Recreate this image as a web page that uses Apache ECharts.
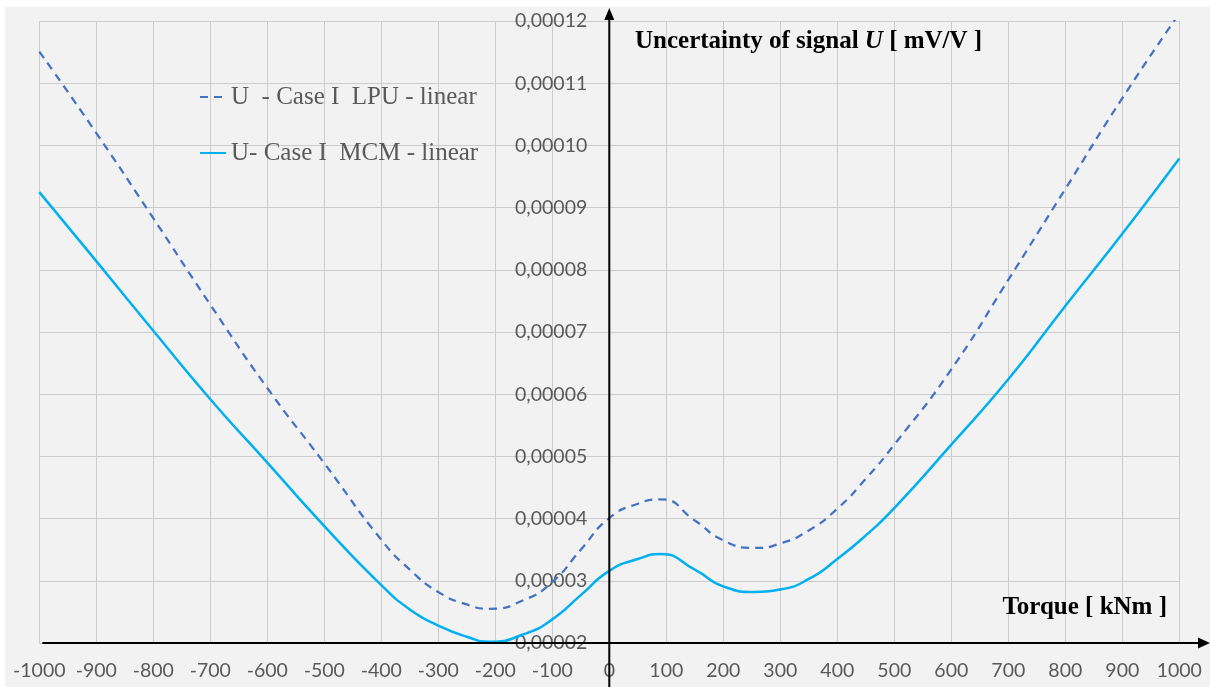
<!DOCTYPE html>
<html><head><meta charset="utf-8">
<script src="https://cdn.jsdelivr.net/npm/echarts@6/dist/echarts.min.js"></script>
<style>
html,body{margin:0;padding:0;background:#ffffff;}
#c{position:absolute;left:5px;top:7px;width:1205px;height:680px;}
</style></head><body><div id="c"></div>
<script>
// Torque [kNm]
const torque = [-1000,-900,-800,-700,-600,-500,-400,-350,-300,-250,-210,-150,-100,-50,0,50,90,150,200,255,300,350,400,450,500,600,700,800,900,1000];
// U - Case I LPU - linear [mV/V]
const lpu = [0.0001151,0.0001020,0.0000883,0.0000744,0.0000610,0.0000489,0.0000366,0.0000318,0.0000282,0.0000262,0.0000255,0.0000269,0.0000298,0.0000350,0.0000401,0.0000424,0.0000431,0.0000397,0.0000365,0.0000353,0.0000360,0.0000381,0.0000416,0.0000464,0.0000519,0.0000640,0.0000784,0.0000930,0.0001076,0.0001212];
// U - Case I MCM - linear [mV/V]
const mcm = [0.0000925,0.0000814,0.0000702,0.0000592,0.0000490,0.0000388,0.0000293,0.0000254,0.0000228,0.0000210,0.0000202,0.0000214,0.0000238,0.0000277,0.0000316,0.0000335,0.0000343,0.0000318,0.0000291,0.0000282,0.0000286,0.0000303,0.0000335,0.0000373,0.0000417,0.0000519,0.0000624,0.0000742,0.0000858,0.0000979];
const seriesNames = ['U  - Case I  LPU - linear', 'U- Case I  MCM - linear'];
const xTickLabels = ['-1000','-900','-800','-700','-600','-500','-400','-300','-200','-100','0','100','200','300','400','500','600','700','800','900','1000'];
const yTickLabels = ['0,00002','0,00003','0,00004','0,00005','0,00006','0,00007','0,00008','0,00009','0,00010','0,00011','0,00012'];
const yTitle = ['Uncertainty of signal ', 'U', ' [ mV/V ]'];
const xTitle = 'Torque [ kNm ]';

const X_MIN = -1000, X_MAX = 1000, X_INT = 100;
const Y_MIN = 0.00002, Y_MAX = 0.00012, Y_INT = 0.00001;

const chart = echarts.init(document.getElementById('c'), null, {renderer: 'canvas'});
const labelFont = 'Lato';
const serif = 'Liberation Serif';

chart.setOption({
  backgroundColor: '#f2f2f2',
  animation: false,
  grid: {left: 34.3, right: 30.7, top: 14.1, bottom: 44, containLabel: false, outerBoundsMode: 'none'},
  title: [
    {
      text: '{a|' + yTitle[0] + '}{b|' + yTitle[1] + '}{a|' + yTitle[2] + '}',
      left: 630, top: 22, padding: 0,
      textStyle: {
        rich: {
          a: {fontFamily: serif, fontWeight: 'bold', fontSize: 25, color: '#000'},
          b: {fontFamily: serif, fontWeight: 'bold', fontStyle: 'italic', fontSize: 25, color: '#000'}
        }
      }
    },
    {
      text: xTitle, right: 43, top: 588, padding: 0,
      textStyle: {fontFamily: serif, fontWeight: 'bold', fontSize: 25, color: '#000'}
    }
  ],
  legend: {
    orient: 'vertical', left: 194, top: 77.5, padding: 0,
    itemWidth: 26, itemHeight: 14, itemGap: 31,
    itemStyle: {opacity: 0},
    textStyle: {fontFamily: serif, fontSize: 25, color: '#595959', lineHeight: 25},
    data: seriesNames
  },
  xAxis: {
    type: 'value', min: X_MIN, max: X_MAX, interval: X_INT,
    axisLine: {show: false},
    axisTick: {show: false},
    axisLabel: {
      margin: 18, color: '#595959', fontFamily: labelFont, fontSize: 19.5,
      formatter: v => xTickLabels[Math.round((v - X_MIN) / X_INT)]
    },
    splitLine: {show: true, lineStyle: {color: '#cccccc', width: 1}}
  },
  yAxis: {
    type: 'value', min: Y_MIN, max: Y_MAX, interval: Y_INT,
    axisLine: {show: false, onZero: false},
    axisTick: {show: false},
    axisLabel: {
      margin: 22, color: '#595959', fontFamily: labelFont, fontSize: 19.5,
      formatter: v => yTickLabels[Math.round((v - Y_MIN) / Y_INT)]
    },
    splitLine: {show: true, lineStyle: {color: '#cccccc', width: 1}}
  },
  series: [
    {
      name: seriesNames[0], type: 'line', symbol: 'none', smooth: 0.55, clip: true,
      data: torque.map((t, i) => [t, lpu[i]]),
      lineStyle: {color: '#4472c4', width: 2.25, type: [8, 6]},
      itemStyle: {color: '#4472c4'}, z: 3
    },
    {
      name: seriesNames[1], type: 'line', symbol: 'none', smooth: 0.55, clip: true,
      data: torque.map((t, i) => [t, mcm[i]]),
      lineStyle: {color: '#00b0f0', width: 2.5},
      itemStyle: {color: '#00b0f0'}, z: 3
    }
  ]
});

// Place the y axis at torque = 0 and draw axis lines with arrows, from the library's scales
const o = chart.convertToPixel({gridIndex: 0}, [0, Y_MIN]);
const xs = chart.convertToPixel({gridIndex: 0}, [X_MIN, Y_MIN]);
const yt = chart.convertToPixel({gridIndex: 0}, [0, Y_MAX]);
const W = chart.getWidth(), H = chart.getHeight();
const tipY = yt[1] - 13;
chart.setOption({
  yAxis: {offset: -(o[0] - xs[0])},
  graphic: [
    {type: 'line', z: 100, shape: {x1: xs[0] + 3, y1: o[1], x2: W - 8, y2: o[1]}, style: {stroke: '#000', lineWidth: 2}},
    {type: 'polygon', z: 100, shape: {points: [[W, o[1]], [W - 12, o[1] - 5.5], [W - 12, o[1] + 5.5]]}, style: {fill: '#000'}},
    {type: 'line', z: 100, shape: {x1: o[0], y1: H, x2: o[0], y2: tipY + 8}, style: {stroke: '#000', lineWidth: 2}},
    {type: 'polygon', z: 100, shape: {points: [[o[0], tipY], [o[0] - 5, tipY + 12], [o[0] + 5, tipY + 12]]}, style: {fill: '#000'}}
  ]
});
</script></body></html>
